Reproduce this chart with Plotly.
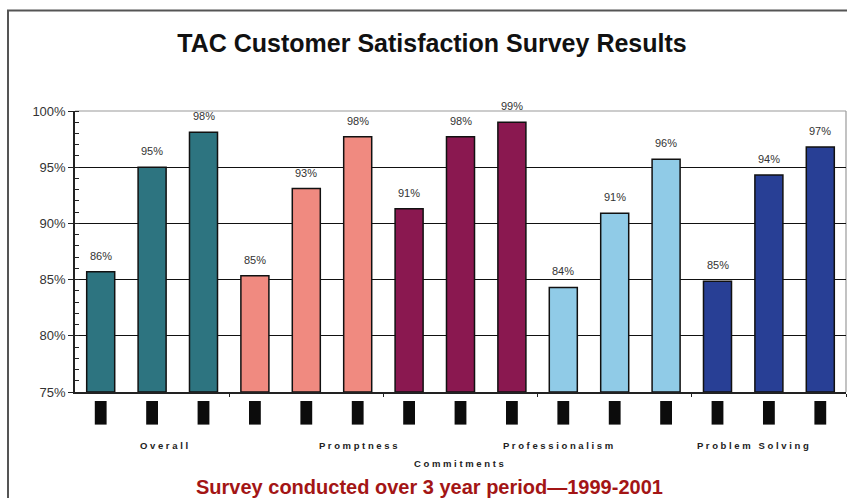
import plotly.graph_objects as go

# ---- data ----
groups = ["Overall", "Promptness", "Commitments", "Professionalism", "Problem Solving"]
overall = [85.7, 95.0, 98.1]
promptness = [85.35, 93.1, 97.7]
commitments = [91.3, 97.7, 99.0]
professionalism = [84.3, 90.9, 95.7]
problem_solving = [84.85, 94.3, 96.8]
y_ticks = [75, 80, 85, 90, 95, 100]
y_tick_labels = ["75%", "80%", "85%", "90%", "95%", "100%"]

series = [overall, promptness, commitments, professionalism, problem_solving]
colors = ["#2D7480", "#F08A80", "#8A1850", "#90CBE7", "#283F95"]

fig = go.Figure()
idx = 0
for vals, col, name in zip(series, colors, groups):
    xs = list(range(idx, idx + len(vals)))
    fig.add_trace(go.Bar(
        x=xs, y=[v - 75 for v in vals], base=75, width=0.545,
        marker=dict(color=col, line=dict(color="#111", width=1.5)),
        name=name, showlegend=False, hoverinfo="skip"))
    for x, v in zip(xs, vals):
        fig.add_annotation(x=x, y=v, yshift=16, text=f"{round(v)}%", showarrow=False,
                           font=dict(size=11, color="#333", family="Liberation Sans, Arial"))
        # black key marks below the axis
        fig.add_shape(type="rect", xref="x", yref="paper", x0=x - 0.115, x1=x + 0.115,
                      y0=-0.116, y1=-0.032, fillcolor="#0c0c0c", line=dict(width=0))
    idx += len(vals)

n = idx

# category labels (letter spaced)
label_pos = [(1.23, -0.192), (5.02, -0.192), (6.98, -0.254), (8.89, -0.192), (12.69, -0.192)]
for g, (lx, ly) in zip(groups, label_pos):
    fig.add_annotation(x=lx, y=ly, xref="x", yref="paper", text=" ".join(list(g)),
                       showarrow=False, yanchor="middle",
                       font=dict(size=9.5, color="#222", family="Liberation Sans, Arial", weight="bold"))

# plot border (gray top/right)
fig.add_shape(type="line", xref="paper", yref="paper", x0=0, x1=1, y0=1, y1=1,
              line=dict(color="#9a9a9a", width=1.2), layer="below")
fig.add_shape(type="line", xref="paper", yref="paper", x0=1, x1=1, y0=0, y1=1,
              line=dict(color="#9a9a9a", width=1.2), layer="below")

# outer frame
fig.add_shape(type="rect", xref="paper", yref="paper", x0=-0.0869, x1=1.0078, y0=-0.6, y1=1.358,
              line=dict(color="#555", width=2), fillcolor="rgba(0,0,0,0)")

# footer
fig.add_annotation(x=0.4604, y=-0.337, xref="paper", yref="paper",
                   text="Survey conducted over 3 year period\u20141999-2001", showarrow=False,
                   yanchor="middle",
                   font=dict(size=20, color="#A31515", family="Liberation Sans, Arial", weight="bold"))

fig.update_layout(
    width=847, height=498,
    margin=dict(l=75, r=1, t=111, b=106),
    paper_bgcolor="white", plot_bgcolor="white",
    title=dict(text="TAC Customer Satisfaction Survey Results", x=432 / 847, xref="container",
               xanchor="center", y=1 - 43 / 498, yref="container", yanchor="middle",
               font=dict(size=25, color="#111", family="Liberation Sans, Arial", weight="bold")),
    xaxis=dict(range=[-0.5, n - 0.5], tickvals=[2.5, 5.5, 8.5, 11.5, 14.5], ticktext=[""] * 5,
               ticks="outside", ticklen=3, tickcolor="#222", showgrid=False,
               showline=True, linecolor="#222", linewidth=1.5, zeroline=False),
    yaxis=dict(range=[75, 100], tickmode="array", tickvals=y_ticks, ticktext=y_tick_labels,
               ticks="outside", ticklen=5,
               tickcolor="#222", showline=True, linecolor="#222", linewidth=1.5,
               showgrid=True, gridcolor="#111", gridwidth=1, zeroline=False,
               tickfont=dict(size=13, color="#333", family="Liberation Sans, Arial"),
               minor=dict(dtick=1, ticks="inside", ticklen=4, tickcolor="#222", showgrid=False)),
    bargap=0.45,
)

fig.write_html("out.html")
